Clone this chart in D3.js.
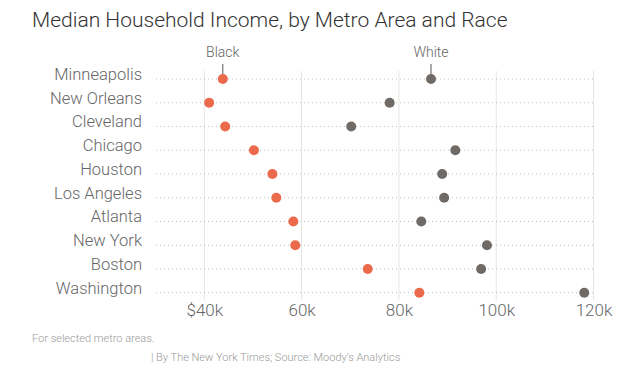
<!DOCTYPE html>
<html>
<head>
<meta charset="utf-8">
<script src="https://cdn.jsdelivr.net/npm/d3@7"></script>
<style>
  body { margin: 0; background: #fff; }
  text { font-family: Roboto, "Noto Sans", sans-serif; font-weight: 300; }
</style>
</head>
<body>
<div id="chart"></div>
<script>
// Data (thousands of dollars)
var metros = ["Minneapolis", "New Orleans", "Cleveland", "Chicago", "Houston",
              "Los Angeles", "Atlanta", "New York", "Boston", "Washington"];
var blackIncome = [43.8, 41.0, 44.3, 50.2, 54.0, 54.8, 58.3, 58.7, 73.6, 84.2];
var whiteIncome = [86.6, 78.1, 70.2, 91.6, 88.9, 89.3, 84.6, 98.1, 96.9, 118.1];
var tickValues = [40, 60, 80, 100, 120];
var tickLabels = ["$40k", "60k", "80k", "100k", "120k"];
var seriesNames = ["Black", "White"];

var width = 641, height = 372;

var orange = "#ec6a4c";
var grey = "#6f6a66";

var svg = d3.select("#chart")
    .append("svg")
    .attr("width", width)
    .attr("height", height);

// scales
var x = d3.scaleLinear().domain([40, 120]).range([204.3, 593.5]);
var y = d3.scalePoint().domain(metros).range([79, 292.7]);

// title
svg.append("text")
    .attr("x", 32)
    .attr("y", 27)
    .attr("font-size", 21)
    .attr("fill", "#333")
    .text("Median Household Income, by Metro Area and Race");

// vertical grid
svg.append("g")
    .selectAll("line")
    .data(tickValues)
    .join("line")
    .attr("x1", d => x(d))
    .attr("x2", d => x(d))
    .attr("y1", 71)
    .attr("y2", 300)
    .attr("stroke", "#e6e4df")
    .attr("stroke-width", 1);

// dotted row lines
svg.append("g")
    .selectAll("line")
    .data(metros)
    .join("line")
    .attr("x1", 156)
    .attr("x2", 596)
    .attr("y1", d => y(d))
    .attr("y2", d => y(d))
    .attr("stroke", "#bdbdbd")
    .attr("stroke-width", 1)
    .attr("stroke-dasharray", "1,3");

// row labels
svg.append("g")
    .selectAll("text")
    .data(metros)
    .join("text")
    .attr("x", 142)
    .attr("y", d => y(d) + 1)
    .attr("text-anchor", "end")
    .attr("font-size", 16.5)
    .attr("fill", "#666")
    .text(d => d);

// x axis labels
var xAxis = d3.axisBottom(x)
    .tickValues(tickValues)
    .tickFormat((d, i) => tickLabels[i])
    .tickSize(0)
    .tickPadding(0);

var axisG = svg.append("g")
    .attr("transform", "translate(0,300)")
    .call(xAxis);
axisG.select(".domain").remove();
axisG.selectAll("text")
    .attr("dy", null)
    .attr("y", 16)
    .attr("font-family", null)
    .attr("font-size", 17)
    .attr("fill", "#666");

// series labels with pointer on Minneapolis row
var firstRow = [blackIncome[0], whiteIncome[0]];
var labelG = svg.append("g");
labelG.selectAll("line")
    .data(firstRow)
    .join("line")
    .attr("x1", d => x(d))
    .attr("x2", d => x(d))
    .attr("y1", 64)
    .attr("y2", y(metros[0]))
    .attr("stroke", "#555")
    .attr("stroke-width", 1);
labelG.selectAll("text")
    .data(firstRow)
    .join("text")
    .attr("x", d => x(d))
    .attr("y", 57)
    .attr("text-anchor", "middle")
    .attr("font-size", 14)
    .attr("fill", "#666")
    .text((d, i) => seriesNames[i]);

// dots
svg.append("g")
    .selectAll("circle")
    .data(metros)
    .join("circle")
    .attr("cx", (d, i) => x(whiteIncome[i]))
    .attr("cy", d => y(d))
    .attr("r", 5)
    .attr("fill", grey);

svg.append("g")
    .selectAll("circle")
    .data(metros)
    .join("circle")
    .attr("cx", (d, i) => x(blackIncome[i]))
    .attr("cy", d => y(d))
    .attr("r", 5)
    .attr("fill", orange);

// notes
svg.append("text")
    .attr("x", 32)
    .attr("y", 342)
    .attr("font-size", 11)
    .attr("fill", "#999")
    .text("For selected metro areas.");

svg.append("text")
    .attr("x", 151)
    .attr("y", 361)
    .attr("font-size", 11)
    .attr("fill", "#999")
    .text("| By The New York Times; Source: Moody\u2019s Analytics");
</script>
</body>
</html>
